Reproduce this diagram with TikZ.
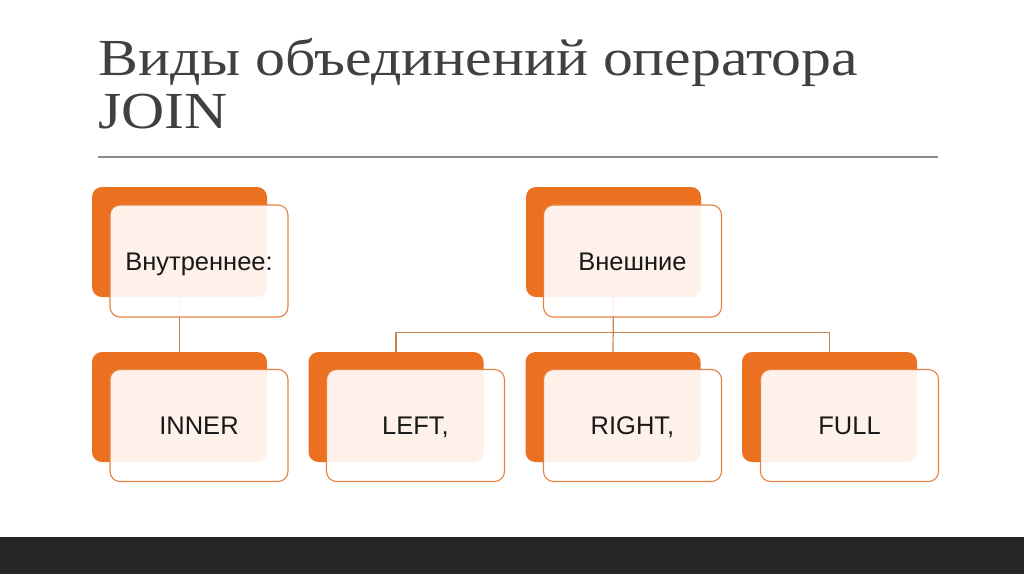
\documentclass[tikz,border=0pt]{standalone}
\usepackage{fontspec}
\setmainfont{Liberation Sans}
\newfontfamily\titlefont{Liberation Serif}
\definecolor{orangeA}{HTML}{EB7120}
\definecolor{edgeO}{HTML}{E5823F}
\definecolor{connC}{HTML}{C8844F}
\definecolor{titleC}{HTML}{404040}
\definecolor{ruleC}{HTML}{8C8C8C}
\definecolor{barC}{HTML}{262626}
\tikzset{
  backbox/.style={rectangle, rounded corners=10pt, fill=orangeA, draw=none,
    minimum width=175pt, minimum height=110pt, inner sep=0pt},
  frontbox/.style={rectangle, rounded corners=10pt, fill=white, fill opacity=0.9,
    text opacity=1, draw=edgeO, line width=1.1pt, minimum width=178pt,
    minimum height=112pt, inner sep=0pt, text height=18.3pt, text depth=0pt,
    font=\fontsize{25.5}{28}\selectfont, text=black!90},
  conn/.style={draw=connC, line width=1.2pt},
  titletext/.style={anchor=base west, inner sep=0pt, text=titleC,
    font=\titlefont\fontsize{52}{55}\selectfont}
}
\newcommand{\widen}[1]{\scalebox{1.15}[1]{#1}}
\begin{document}
\begin{tikzpicture}[x=1pt,y=-1pt]
\useasboundingbox (0,0) rectangle (1024,574);
\fill[white] (0,0) rectangle (1024,574);
% title
\node[titletext] (t1) at (98,75) {\widen{Виды объединений оператора}};
\node[titletext] (t2) at (98,128) {\widen{JOIN}};
\draw[ruleC, line width=1.5pt] (98,157) -- (938,157);
% bottom bar
\fill[barC] (0,537) rectangle (1024,574);
% back boxes
\node[backbox] (bi) at (179.5,242) {};
\node[backbox] (bo) at (613.5,242) {};
\node[backbox] (bin) at (179.5,407) {};
\node[backbox] (bl) at (396,407) {};
\node[backbox] (br) at (613,407) {};
\node[backbox] (bf) at (829.5,407) {};
% connectors
\draw[conn] (bi.south) -- (bin.north);
\draw[conn] (bo.south) -- (br.north);
\draw[conn] (bl.north) -- ++(0,-19) -| (bf.north);
% front boxes
\node[frontbox] (fi) at (199,261) {Внутреннее:};
\node[frontbox] (fo) at (632.5,261) {Внешние};
\node[frontbox] (fin) at (199,425.5) {INNER};
\node[frontbox] (fl) at (415.5,425.5) {LEFT,};
\node[frontbox] (fr) at (632.5,425.5) {RIGHT,};
\node[frontbox] (ff) at (849.5,425.5) {FULL};
\end{tikzpicture}
\end{document}
